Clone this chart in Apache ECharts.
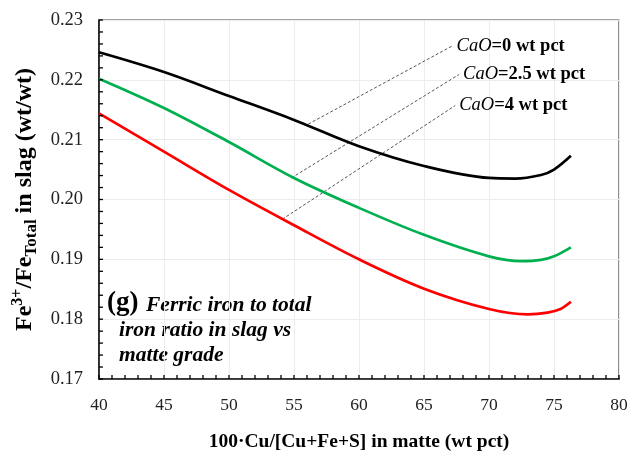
<!DOCTYPE html>
<html>
<head>
<meta charset="utf-8">
<script src="https://cdn.jsdelivr.net/npm/echarts@6/dist/echarts.min.js"></script>
<style>html,body{margin:0;padding:0;background:#fff;}#c{width:632px;height:457px;}</style>
</head>
<body>
<div id="c"></div>
<script>
// Data
const xTickLabels = [40, 45, 50, 55, 60, 65, 70, 75, 80];
const yTickLabels = ['0.17', '0.18', '0.19', '0.20', '0.21', '0.22', '0.23'];
const cao0 = [[40,0.2246],[45,0.2213],[50,0.2173],[55,0.2133],[60,0.2089],[65,0.2056],[70,0.2036],[72,0.2035],[74,0.2041],[75,0.2050],[76.3,0.2073]];
const cao25 = [[40,0.2202],[45,0.2153],[50,0.2096],[55,0.2036],[60,0.1986],[65,0.1941],[70,0.1905],[72.5,0.1897],[74,0.1899],[75,0.1905],[76.3,0.1920]];
const cao4 = [[40,0.2144],[45,0.2080],[50,0.2016],[55,0.1957],[60,0.1900],[65,0.1851],[70,0.1817],[73,0.1808],[74.5,0.1811],[75.5,0.1817],[76.3,0.1829]];
const leader0 = [[56.1,0.2126],[67.2,0.2257]];
const leader25 = [[54.8,0.2036],[67.7,0.2209]];
const leader4 = [[54.1,0.1967],[67.4,0.2157]];
const labels = ['=0 wt pct', '=2.5 wt pct', '=4 wt pct'];
const noteTag = '(g)';
const noteLines = ['Ferric iron to total', 'iron ratio in slag vs', 'matte grade'];
// tick mark positions (major + minor) along each axis
const xMin = 40, xMax = 80, xMinorStep = 1;
const yMin = 0.17, yMax = 0.23, yMinorStep = 0.002;
const xTickVals = [];
for (let i = 0; i <= Math.round((xMax - xMin) / xMinorStep); i++) xTickVals.push(+(xMin + i * xMinorStep).toFixed(3));
const yTickVals = [];
for (let i = 0; i <= Math.round((yMax - yMin) / yMinorStep); i++) yTickVals.push(+(yMin + i * yMinorStep).toFixed(4));

const serif = '"Liberation Serif", "DejaVu Serif", serif';
const chart = echarts.init(document.getElementById('c'));

function curve(data, color) {
  return {
    type: 'line', data: data, smooth: 0.35, symbol: 'none',
    lineStyle: { color: color, width: 2.7 }, z: 3, silent: true
  };
}
function leader(data, text) {
  return {
    type: 'line', data: data, symbol: 'none', silent: true, z: 2,
    lineStyle: { color: '#555', width: 1, type: [3, 2] },
    endLabel: {
      show: true, distance: 4,
      formatter: '{i|CaO}{b|' + text + '}',
      rich: {
        i: { fontFamily: serif, fontStyle: 'italic', fontSize: 18.5, color: '#000' },
        b: { fontFamily: serif, fontWeight: 'bold', fontSize: 18.5, color: '#000' }
      }
    }
  };
}

const noteGraphics = [
  { type: 'text', x: 107, y: 303, style: { text: noteTag, font: 'bold 27px ' + serif, fill: '#000', verticalAlign: 'middle', align: 'left' } },
  { type: 'text', x: 146, y: 305, style: { text: noteLines[0], font: 'italic bold 21.5px ' + serif, fill: '#000', verticalAlign: 'middle', align: 'left' } },
  { type: 'text', x: 119, y: 330, style: { text: noteLines[1], font: 'italic bold 21.5px ' + serif, fill: '#000', verticalAlign: 'middle', align: 'left' } },
  { type: 'text', x: 119, y: 355, style: { text: noteLines[2], font: 'italic bold 21.5px ' + serif, fill: '#000', verticalAlign: 'middle', align: 'left' } }
];

chart.setOption({
  animation: false,
  grid: { left: 99, right: 13, top: 20, bottom: 73, show: true, borderColor: '#444', borderWidth: 1.2 },
  xAxis: {
    type: 'value', min: xMin, max: xMax, interval: 5,
    name: '100·Cu/[Cu+Fe+S] in matte (wt pct)', nameLocation: 'middle', nameGap: 53,
    nameTextStyle: { fontFamily: serif, fontWeight: 'bold', fontSize: 19.5, color: '#000' },
    axisLine: { show: true, lineStyle: { color: '#111', width: 1.6 } },
    axisTick: { show: false },
    splitLine: { show: true, lineStyle: { color: '#ececec', width: 1 } },
    axisLabel: { fontFamily: serif, fontSize: 17.5, color: '#222', margin: 17,
      formatter: function (v) { return xTickLabels.indexOf(v) >= 0 ? String(v) : ''; } }
  },
  yAxis: {
    type: 'value', min: yMin, max: yMax, interval: 0.01,
    name: '{b|Fe}{sup|3+}{b|/Fe}{sub|Total}{b| in slag (wt/wt)}',
    nameLocation: 'middle', nameGap: 58, nameRotate: 90,
    nameTextStyle: {
      rich: {
        b: { fontFamily: serif, fontWeight: 'bold', fontSize: 24, color: '#000', lineHeight: 30, verticalAlign: 'middle' },
        sup: { fontFamily: serif, fontWeight: 'bold', fontSize: 16, color: '#000', lineHeight: 30, verticalAlign: 'top' },
        sub: { fontFamily: serif, fontWeight: 'bold', fontSize: 17, color: '#000', lineHeight: 30, verticalAlign: 'bottom' }
      }
    },
    axisLine: { show: true, lineStyle: { color: '#111', width: 1.6 } },
    axisTick: { show: false },
    splitLine: { show: true, lineStyle: { color: '#ececec', width: 1 } },
    axisLabel: { fontFamily: serif, fontSize: 18.5, color: '#222', margin: 16,
      formatter: function (v) { const s = v.toFixed(2); return yTickLabels.indexOf(s) >= 0 ? s : ''; } }
  },
  series: [
    curve(cao0, '#000000'),
    curve(cao25, '#00b050'),
    curve(cao4, '#ff0000'),
    leader(leader0, labels[0]),
    leader(leader25, labels[1]),
    leader(leader4, labels[2])
  ],
  graphic: noteGraphics
});

// Tick marks placed through the chart's own scales
const tickGraphics = [];
xTickVals.forEach(function (v) {
  const p = chart.convertToPixel({ gridIndex: 0 }, [v, yMin]);
  tickGraphics.push({ type: 'line', z: 50, silent: true, shape: { x1: p[0], y1: p[1], x2: p[0], y2: p[1] - 4 }, style: { stroke: '#000', lineWidth: 1.3 } });
});
yTickVals.forEach(function (v) {
  const p = chart.convertToPixel({ gridIndex: 0 }, [xMin, v]);
  tickGraphics.push({ type: 'line', z: 50, silent: true, shape: { x1: p[0], y1: p[1], x2: p[0] + 4, y2: p[1] }, style: { stroke: '#000', lineWidth: 1.3 } });
});
chart.setOption({ graphic: noteGraphics.concat(tickGraphics) });
</script>
</body>
</html>
